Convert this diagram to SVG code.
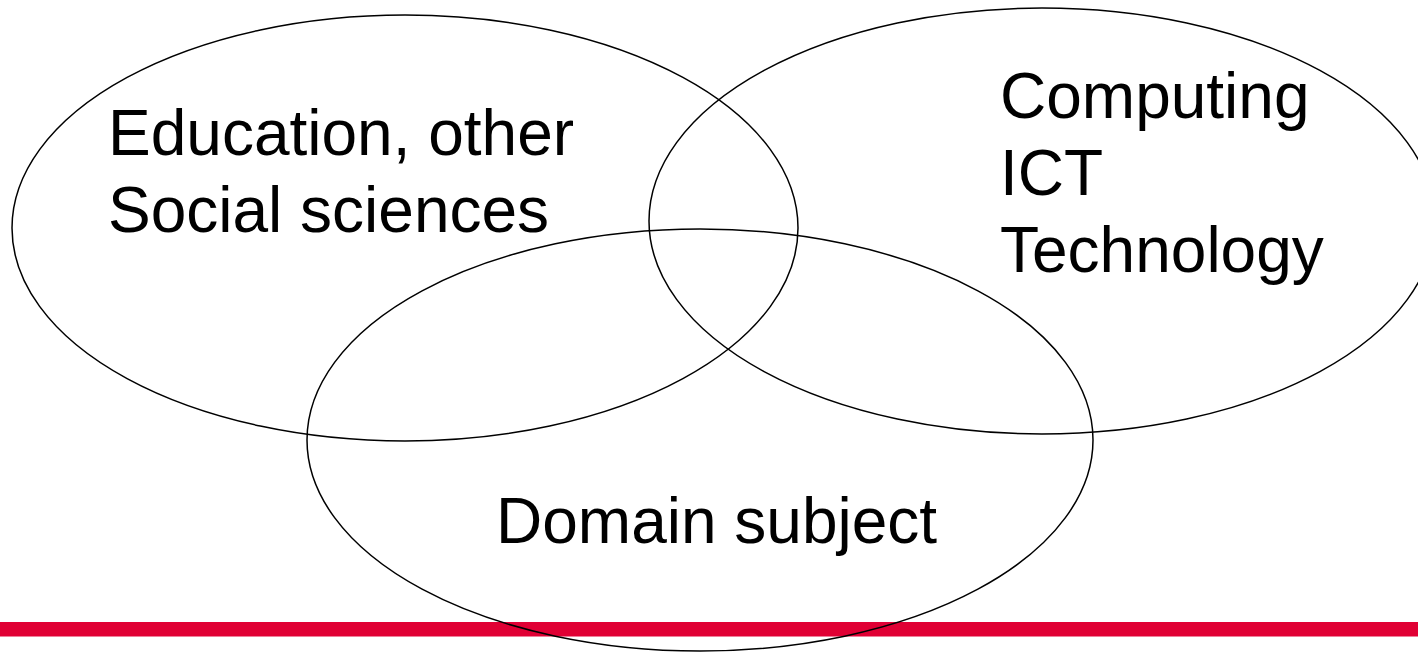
<svg xmlns="http://www.w3.org/2000/svg" width="1418" height="652" viewBox="0 0 1418 652">
  <style>
    .set { fill: none; stroke: #000; stroke-width: 1.5; }
    .label { font-family: "Liberation Sans", Arial, sans-serif; font-size: 64px; fill: #000; }
  </style>
  <rect width="1418" height="652" fill="#fff"/>
  <!-- footer rule -->
  <rect id="footer-bar" x="0" y="622" width="1418" height="14.5" fill="#E00034"/>
  <g id="set-social">
    <ellipse class="set" cx="405" cy="228" rx="393" ry="213"/>
    <text class="label" x="108" y="155">Education, other</text>
    <text class="label" x="108" y="232">Social sciences</text>
  </g>
  <g id="set-computing">
    <ellipse class="set" cx="1042" cy="221" rx="393" ry="213"/>
    <text class="label" x="1000" y="118">Computing</text>
    <text class="label" x="1000" y="195">ICT</text>
    <text class="label" x="1000" y="272">Technology</text>
  </g>
  <g id="set-domain">
    <ellipse class="set" cx="700" cy="440" rx="393" ry="211"/>
    <text class="label" x="496" y="543">Domain subject</text>
  </g>
</svg>
